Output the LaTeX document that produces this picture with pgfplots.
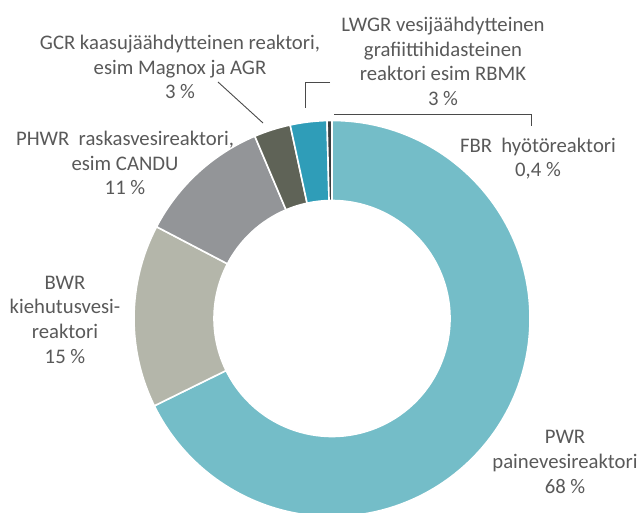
\documentclass[border=0pt]{standalone}
\usepackage{pgfplots}
\pgfplotsset{compat=1.18}
\usepackage{fontspec}
\setmainfont{Carlito}
\definecolor{cPWR}{HTML}{74BDC8}
\definecolor{cBWR}{HTML}{B4B6AA}
\definecolor{cPHWR}{HTML}{939598}
\definecolor{cGCR}{HTML}{5F6357}
\definecolor{cLWGR}{HTML}{2F9DB8}
\definecolor{cFBR}{HTML}{3A3E40}
\definecolor{cText}{HTML}{595959}
\definecolor{cLine}{HTML}{4A4A4A}
\begin{document}
\begin{tikzpicture}
\begin{axis}[scale only axis, width=640bp, height=512bp,
  xmin=0, xmax=640, ymin=0, ymax=512, hide axis, clip=true]
\pgfmathsetmacro{\total}{100.4}
\gdef\st{90}
\foreach \v/\c in {68/cPWR,15/cBWR,11/cPHWR,3/cGCR,3/cLWGR,0.4/cFBR}{
  \pgfmathsetmacro{\en}{\st-(\v/\total)*360}
  \edef\tmp{\noexpand\fill[\c,draw=white,line width=1.6bp,line join=round]
    ([shift={(\st:198bp)}]axis cs:332,193.5)
    arc[start angle=\st,end angle=\en,radius=198bp]
    -- ([shift={(\en:118bp)}]axis cs:332,193.5)
    arc[start angle=\en,end angle=\st,radius=118bp] -- cycle;}
  \tmp
  \global\let\st\en
}
\draw[cLine, line width=0.9bp] (axis cs:218,430) -- (axis cs:263,389);
\draw[cLine, line width=0.9bp] (axis cs:330,430) -- (axis cs:305,430) -- (axis cs:305,404);
\draw[cLine, line width=0.9bp] (axis cs:334,398) -- (axis cs:531,398) -- (axis cs:531,386);
\begin{scope}[every node/.style={align=center, text=cText, inner sep=0pt, font=\fontsize{20.8}{24.8}\selectfont}]
\node at (axis cs:180,445) {GCR kaasujäähdytteinen reaktori,\\esim Magnox ja AGR\\3 \%};
\node at (axis cs:443,450.5) {LWGR vesijäähdytteinen\\grafiittihidasteinen\\reaktori esim RBMK\\3 \%};
\node at (axis cs:125,349) {PHWR\hspace{0.45em}raskasvesireaktori,\\esim CANDU\\11 \%};
\node at (axis cs:65,192.5) {BWR\\kiehutusvesi-\\reaktori\\15 \%};
\node at (axis cs:538,353.5) {FBR\hspace{0.45em}hyötöreaktori\\0,4 \%};
\node at (axis cs:565,50) {PWR\\painevesireaktori\\68 \%};
\end{scope}
\end{axis}
\path (current axis.south west) rectangle (current axis.north east);
\end{tikzpicture}
\end{document}
